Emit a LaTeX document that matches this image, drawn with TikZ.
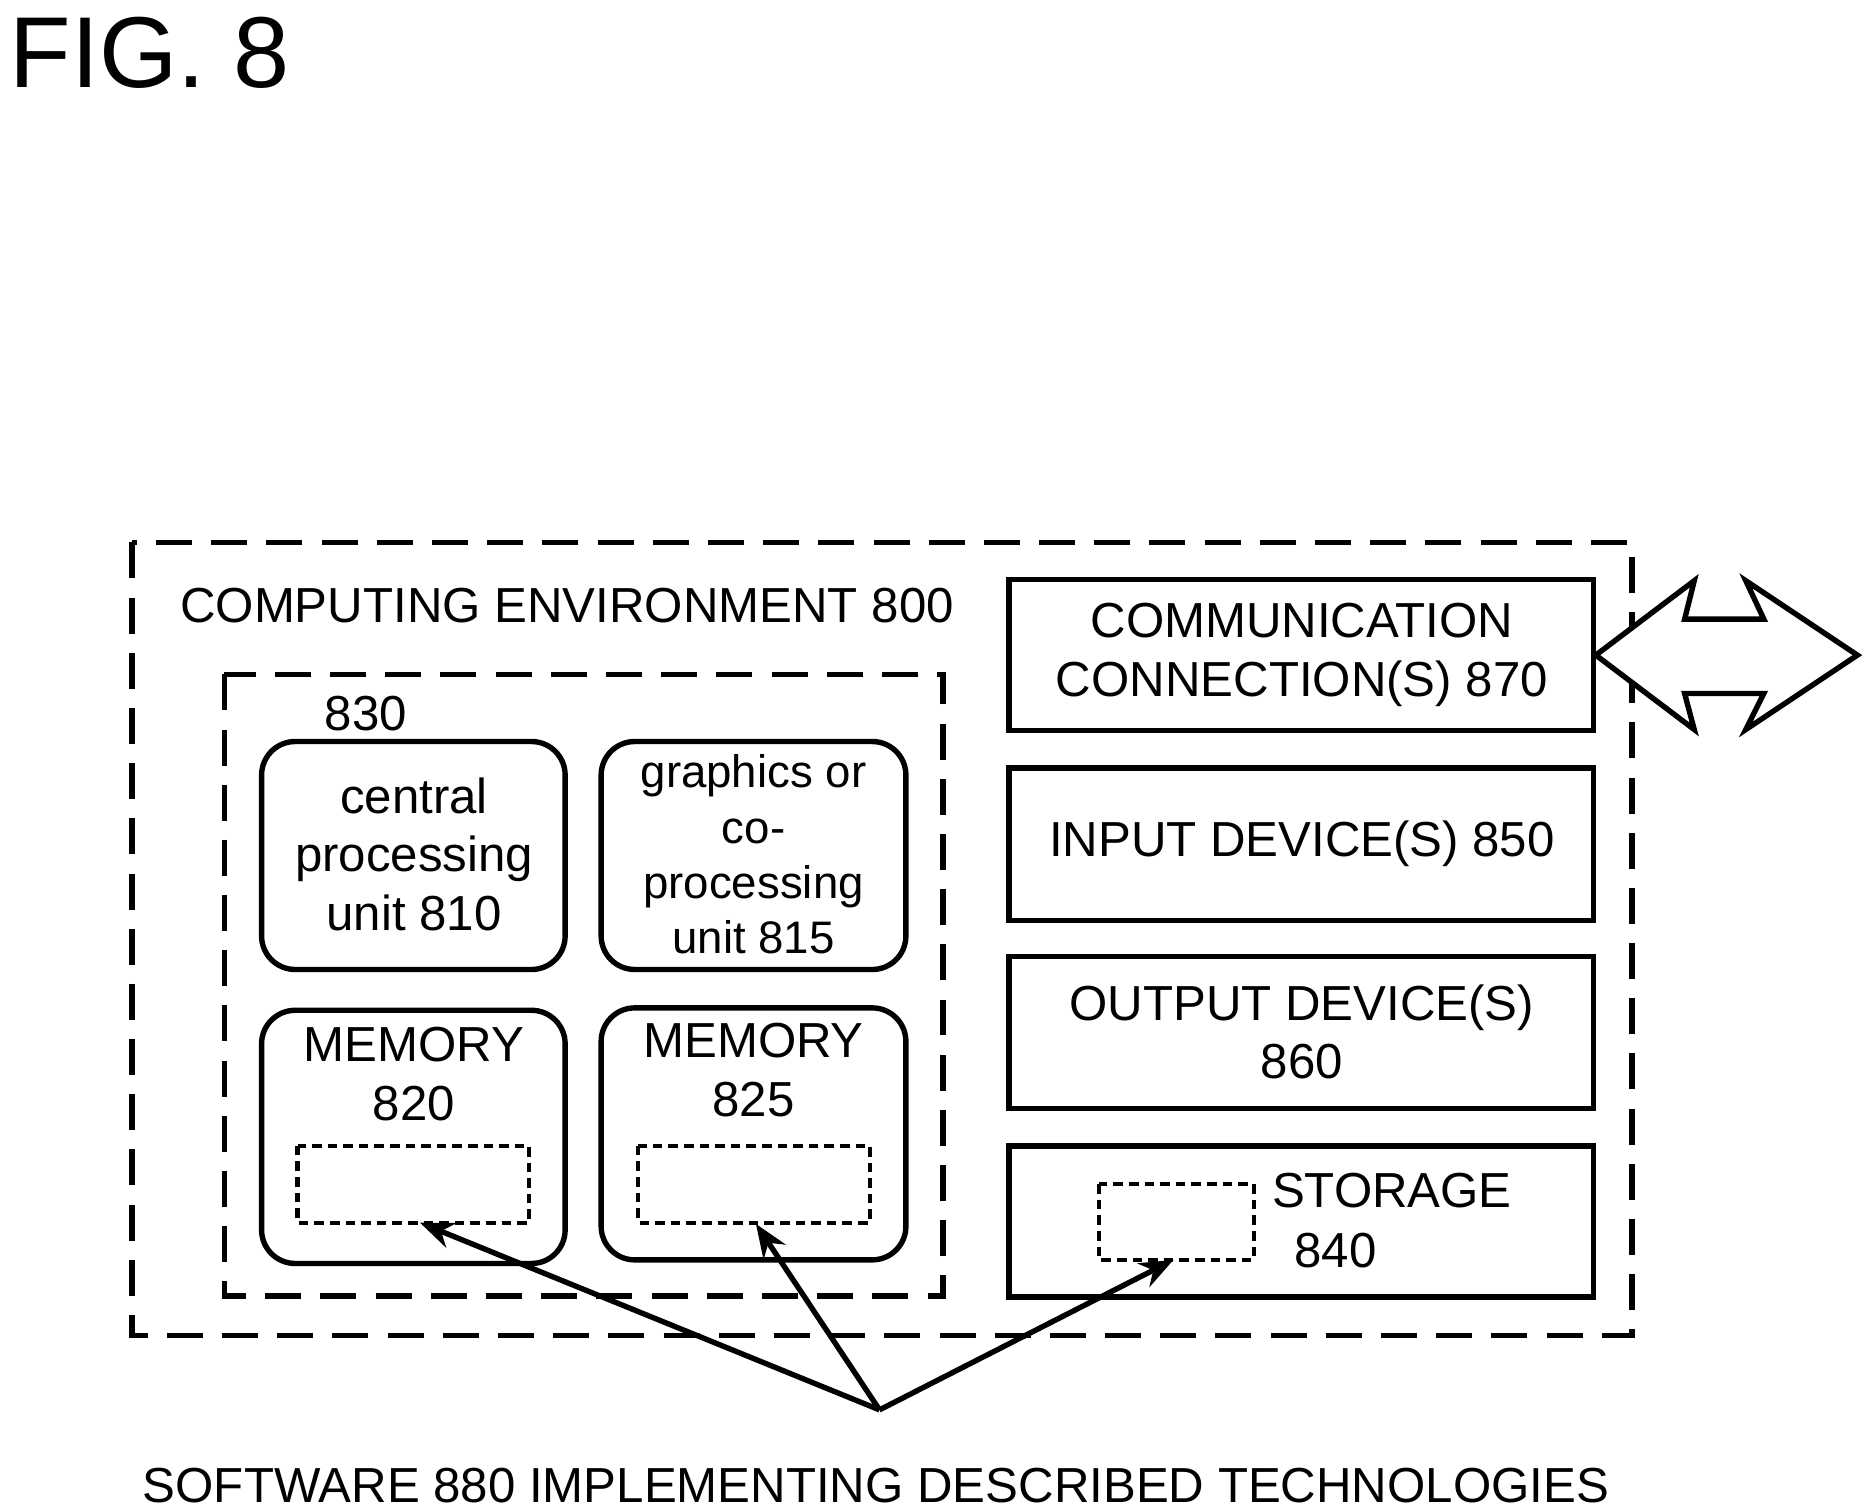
\documentclass[tikz,border=0pt]{standalone}
\usepackage{fontspec}
\setmainfont{Liberation Sans}
\usetikzlibrary{arrows.meta}
\begin{document}
\begin{tikzpicture}[x=1pt,y=-1pt,
  every node/.style={inner sep=0pt,font=\fontsize{41}{49}\selectfont},
  dbox/.style={draw,line width=4.5pt,dash pattern=on 30pt off 16pt},
  rbox/.style={draw,line width=4.5pt,rounded corners=28pt},
  sbox/.style={draw,line width=4.5pt},
  dot/.style={draw,line width=3.5pt,dash pattern=on 8pt off 5pt},
  arr/.style={line width=4.5pt,-{Stealth[length=28pt,width=22pt]}}]
\useasboundingbox (0,0) rectangle (1556,1260);
\node[anchor=north west,font=\fontsize{84}{88}\selectfont] (fig) at (8,14) {FIG. 8};
\draw[dbox] (110,452) rectangle (1360,1113);
\node[anchor=west] (ce) at (150,505) {COMPUTING ENVIRONMENT 800};
\draw[dbox] (187,562) rectangle (786,1080);
\node (n830) at (305,595) {830};
\draw[rbox] (218,618) rectangle (471,808);
\node[align=center] (cpu) at (345,712) {central\\processing\\unit 810};
\draw[rbox] (501,618) rectangle (755,808);
\node[align=center,font=\fontsize{38}{46}\selectfont] (gpu) at (628,712) {graphics or\\co-\\processing\\unit 815};
\draw[rbox] (218,842) rectangle (471,1053);
\node[align=center] (m820) at (345,895) {MEMORY\\820};
\draw[dot] (248,955) rectangle (441,1019);
\coordinate (d1) at (350,1019);
\draw[rbox] (501,840) rectangle (755,1050);
\node[align=center] (m825) at (628,892) {MEMORY\\825};
\draw[dot] (532,955) rectangle (725,1019);
\coordinate (d2) at (630,1020);
\draw[sbox] (841,483) rectangle (1328,609);
\node[align=center] (comm) at (1085,546) {COMMUNICATION\\CONNECTION(S) 870};
\draw[sbox] (841,640) rectangle (1328,767);
\node (inp) at (1085,703) {INPUT DEVICE(S) 850};
\draw[sbox] (841,797) rectangle (1328,924);
\node[align=center] (out) at (1085,860) {OUTPUT DEVICE(S)\\860};
\draw[sbox] (841,955) rectangle (1328,1081);
\draw[dot] (916,987) rectangle (1045,1050);
\coordinate (d3) at (978,1050);
\node (st) at (1160,992) {STORAGE};
\node (st2) at (1113,1042) {840};
\draw[line width=4.5pt,fill=white,line join=miter] (1330,546) -- (1412,484) -- (1404,516) -- (1470,516) -- (1455,484) -- (1548,546) -- (1455,608) -- (1470,578) -- (1404,578) -- (1412,608) -- cycle;
\coordinate (src) at (733,1175);
\draw[arr] (src) -- (d1);
\draw[arr] (src) -- (d2);
\draw[arr] (src) -- (d3);
\node (sw) at (730,1238) {SOFTWARE 880 IMPLEMENTING DESCRIBED TECHNOLOGIES};
\end{tikzpicture}
\end{document}
